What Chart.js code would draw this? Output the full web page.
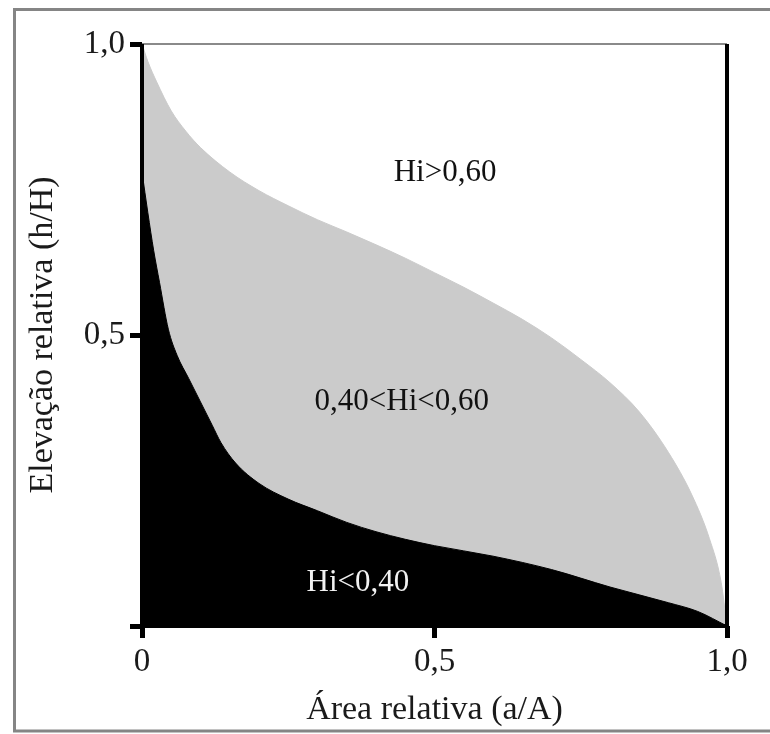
<!DOCTYPE html>
<html>
<head>
<meta charset="utf-8">
<script src="https://cdn.jsdelivr.net/npm/chart.js@4"></script>
<style>
  body { margin: 0; background: #fff; }
  canvas { display: block; }
</style>
</head>
<body>
<canvas id="hypsoChart" width="770" height="734"></canvas>
<script>
// hypsometric curve envelopes (relative area vs relative elevation)
const upperArea = [0, 0.01, 0.025, 0.05, 0.075, 0.1, 0.15, 0.2, 0.25, 0.3, 0.35, 0.4, 0.45, 0.5, 0.55, 0.6, 0.65, 0.7, 0.75, 0.8, 0.85, 0.9, 0.94, 0.97, 0.99, 1.0];
const upperElev = [1.0, 0.97, 0.935, 0.885, 0.85, 0.822, 0.78, 0.748, 0.722, 0.698, 0.677, 0.655, 0.632, 0.607, 0.582, 0.555, 0.527, 0.495, 0.458, 0.418, 0.368, 0.298, 0.225, 0.15, 0.075, 0.0];

const lowerArea = [0, 0.01, 0.02, 0.03, 0.045, 0.06, 0.08, 0.1, 0.12, 0.135, 0.16, 0.2, 0.25, 0.3, 0.35, 0.4, 0.45, 0.5, 0.6, 0.7, 0.8, 0.9, 0.95, 1.0];
const lowerElev = [0.78, 0.71, 0.645, 0.59, 0.51, 0.465, 0.425, 0.385, 0.345, 0.315, 0.28, 0.245, 0.218, 0.198, 0.178, 0.162, 0.149, 0.138, 0.12, 0.097, 0.067, 0.04, 0.025, 0.0];

const tickValues = [0, 0.5, 1.0];
const tickLabels = ['0', '0,5', '1,0'];

const xTitle = 'Área relativa (a/A)';
const yTitle = 'Elevação relativa (h/H)';

const classLabels = ['Hi>0,60', '0,40<Hi<0,60', 'Hi<0,40'];

const toPoints = (xs, ys) => xs.map((v, i) => ({ x: v, y: ys[i] }));
const tickText = v => {
    const i = tickValues.findIndex(t => Math.abs(t - v) < 1e-9);
    return i >= 0 ? tickLabels[i] : '';
};

const serif = '"Liberation Serif", "DejaVu Serif", serif';

// frame, outer border and the class labels
const frameAndLabels = {
    id: 'frameAndLabels',
    beforeDraw(chart) {
        const ctx = chart.ctx;
        ctx.save();
        ctx.fillStyle = '#fff';
        ctx.fillRect(0, 0, chart.width, chart.height);
        ctx.strokeStyle = '#858585';
        ctx.lineWidth = 3;
        ctx.beginPath();
        ctx.moveTo(chart.width, 9.5);
        ctx.lineTo(14.5, 9.5);
        ctx.lineTo(14.5, 731);
        ctx.lineTo(chart.width, 731);
        ctx.stroke();
        ctx.restore();
    },
    afterDatasetsDraw(chart) {
        const { ctx, chartArea: a, scales: { x, y } } = chart;
        ctx.save();
        ctx.strokeStyle = '#8a8a8a';
        ctx.lineWidth = 2;
        ctx.beginPath();
        ctx.moveTo(a.left, a.top);
        ctx.lineTo(a.right, a.top);
        ctx.stroke();
        ctx.strokeStyle = '#000';
        ctx.lineWidth = 4;
        ctx.beginPath();
        ctx.moveTo(a.left, a.top);
        ctx.lineTo(a.left, a.bottom);
        ctx.lineTo(a.right, a.bottom);
        ctx.lineTo(a.right, a.top);
        ctx.stroke();

        ctx.font = '31px ' + serif;
        ctx.textAlign = 'center';
        ctx.textBaseline = 'middle';
        const spots = [[0.518, 0.778, '#111'], [0.444, 0.385, '#111'], [0.369, 0.074, '#f2f2f2']];
        classLabels.forEach((t, i) => {
            ctx.fillStyle = spots[i][2];
            ctx.fillText(t, x.getPixelForValue(spots[i][0]), y.getPixelForValue(spots[i][1]));
        });
        ctx.restore();
    }
};

const ctxHypso = document.getElementById('hypsoChart').getContext('2d');
const hypsoChart = new Chart(ctxHypso, {
    type: 'line',
    data: {
        datasets: [
            {
                label: 'Hi<0,40',
                data: toPoints(lowerArea, lowerElev),
                borderColor: '#000',
                backgroundColor: '#000',
                borderWidth: 1,
                pointRadius: 0,
                cubicInterpolationMode: 'monotone',
                fill: 'origin'
            },
            {
                label: '0,40<Hi<0,60',
                data: toPoints(upperArea, upperElev),
                borderColor: '#cbcbcb',
                backgroundColor: '#cbcbcb',
                borderWidth: 1,
                pointRadius: 0,
                cubicInterpolationMode: 'monotone',
                fill: 'origin'
            }
        ]
    },
    options: {
        responsive: false,
        devicePixelRatio: 1,
        animation: false,
        layout: { padding: { left: 0, right: 43, top: 44, bottom: 0 } },
        plugins: {
            legend: { display: false },
            tooltip: { enabled: false }
        },
        scales: {
            x: {
                type: 'linear',
                min: 0,
                max: 1,
                afterBuildTicks: s => { s.ticks = tickValues.map(v => ({ value: v })); },
                afterFit: s => { s.height = 108; },
                ticks: {
                    callback: tickText,
                    padding: 5,
                    maxRotation: 0,
                    color: '#1a1a1a',
                    font: { family: serif, size: 33 }
                },
                grid: { drawOnChartArea: false, drawTicks: true, tickLength: 12, lineWidth: 5, color: '#000' },
                border: { display: false },
                title: {
                    display: true,
                    text: xTitle,
                    color: '#1a1a1a',
                    font: { family: serif, size: 34 },
                    padding: { top: 0, bottom: 4 }
                }
            },
            y: {
                type: 'linear',
                min: 0,
                max: 1,
                afterBuildTicks: s => { s.ticks = tickValues.map(v => ({ value: v })); },
                afterFit: s => { s.width = 142; },
                ticks: {
                    callback: v => (v === 0 ? '' : tickText(v)),
                    padding: 5,
                    color: '#1a1a1a',
                    font: { family: serif, size: 33 }
                },
                grid: { drawOnChartArea: false, drawTicks: true, tickLength: 12, lineWidth: 5, color: '#000' },
                border: { display: false },
                title: {
                    display: true,
                    text: yTitle,
                    color: '#1a1a1a',
                    font: { family: serif, size: 34 },
                    padding: { top: 23, bottom: 0 }
                }
            }
        }
    },
    plugins: [frameAndLabels]
});
</script>
</body>
</html>
